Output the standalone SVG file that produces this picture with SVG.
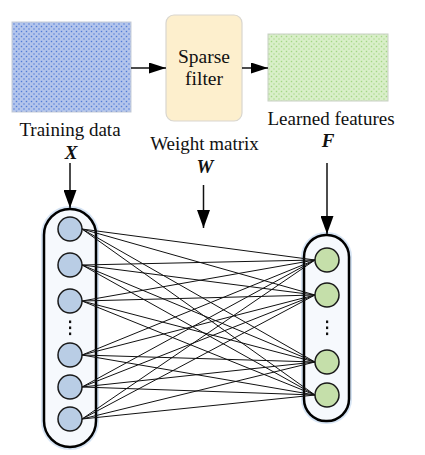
<svg xmlns="http://www.w3.org/2000/svg" width="425" height="455" viewBox="0 0 425 455">
<style>
text{font-family:"Liberation Serif","Times New Roman",serif;font-size:19px;fill:#111;text-anchor:middle}
.v{font-weight:bold;font-style:italic}
.arr{stroke:#111;stroke-width:1.5;fill:none}
.cap{fill:#f6f9fd;stroke:#000;stroke-width:2.5}
.glow{fill:none;stroke:#d6e4f4;stroke-width:6}
.nb{fill:#b9cde5;stroke:#1a1a1a;stroke-width:1.5}
.ng{fill:#c5dfaa;stroke:#1a1a1a;stroke-width:1.5}
.dot{fill:#111}
#links line{stroke:#111;stroke-width:1}
</style>
<defs>
<pattern id="pb" width="5" height="5" patternUnits="userSpaceOnUse">
<rect width="5" height="5" fill="#b3c5ec"/>
<rect x="0.8" y="0.8" width="1.4" height="1.4" fill="#4f7bd6"/>
<rect x="3.3" y="3.3" width="1.4" height="1.4" fill="#6388da"/>
</pattern>
<pattern id="pg" width="5" height="5" patternUnits="userSpaceOnUse">
<rect width="5" height="5" fill="#d9efc9"/>
<rect x="0.8" y="0.8" width="1.4" height="1.4" fill="#a3d685"/>
<rect x="3.3" y="3.3" width="1.4" height="1.4" fill="#b2dd97"/>
</pattern>
<marker id="ah" markerUnits="userSpaceOnUse" markerWidth="18" markerHeight="13" refX="18" refY="6.5" orient="auto">
<path d="M0,0 L18,6.5 L0,13 z" fill="#000"/>
</marker>
<marker id="ahs" markerUnits="userSpaceOnUse" markerWidth="17" markerHeight="11" refX="17" refY="5.5" orient="auto">
<path d="M0,0 L17,5.5 L0,11 z" fill="#000"/>
</marker>
</defs>

<g id="training-data">
<rect x="12" y="22" width="119" height="90" fill="url(#pb)" stroke="#c5cbd6" stroke-width="1"/>
<text x="70" y="136">Training data</text>
<text class="v" x="71" y="159">X</text>
</g>

<g id="sparse-filter">
<rect x="166" y="15" width="76" height="106" rx="8" fill="#fdefcd" stroke="#d9d6cf" stroke-width="1.2"/>
<text x="204" y="63" style="font-size:19.5px">Sparse</text>
<text x="204" y="85" style="font-size:19.5px">filter</text>
<text x="204.5" y="150">Weight matrix</text>
<text class="v" x="205" y="173">W</text>
</g>

<g id="learned-features">
<rect x="268" y="34" width="120" height="67" fill="url(#pg)" stroke="#c8cfc4" stroke-width="1"/>
<text x="331" y="125">Learned features</text>
<text class="v" x="328" y="147">F</text>
</g>

<g id="input-layer">
<rect class="glow" x="44" y="209" width="52" height="238" rx="26"/>
<rect class="cap" x="44" y="209" width="52" height="238" rx="26"/>
</g>

<g id="output-layer">
<rect class="glow" x="304" y="235" width="45" height="186" rx="22"/>
<rect class="cap" x="304" y="235" width="45" height="186" rx="22"/>
</g>

<g id="links">
<line x1="82" y1="229" x2="315" y2="260"/><line x1="82" y1="229" x2="315" y2="295"/><line x1="82" y1="229" x2="315" y2="362"/><line x1="82" y1="229" x2="315" y2="395"/>
<line x1="82" y1="265" x2="315" y2="260"/><line x1="82" y1="265" x2="315" y2="295"/><line x1="82" y1="265" x2="315" y2="362"/><line x1="82" y1="265" x2="315" y2="395"/>
<line x1="82" y1="301" x2="315" y2="260"/><line x1="82" y1="301" x2="315" y2="295"/><line x1="82" y1="301" x2="315" y2="362"/><line x1="82" y1="301" x2="315" y2="395"/>
<line x1="82" y1="355" x2="315" y2="260"/><line x1="82" y1="355" x2="315" y2="295"/><line x1="82" y1="355" x2="315" y2="362"/><line x1="82" y1="355" x2="315" y2="395"/>
<line x1="82" y1="387" x2="315" y2="260"/><line x1="82" y1="387" x2="315" y2="295"/><line x1="82" y1="387" x2="315" y2="362"/><line x1="82" y1="387" x2="315" y2="395"/>
<line x1="82" y1="419" x2="315" y2="260"/><line x1="82" y1="419" x2="315" y2="295"/><line x1="82" y1="419" x2="315" y2="362"/><line x1="82" y1="419" x2="315" y2="395"/>
</g>

<g id="input-nodes">
<circle class="nb" cx="70" cy="229" r="12"/>
<circle class="nb" cx="70" cy="265" r="12"/>
<circle class="nb" cx="70" cy="301" r="12"/>
<rect class="dot" x="69" y="320.5" width="2.2" height="2.6"/>
<rect class="dot" x="69" y="326.5" width="2.2" height="2.6"/>
<rect class="dot" x="69" y="332.5" width="2.2" height="2.6"/>
<circle class="nb" cx="70" cy="355" r="12"/>
<circle class="nb" cx="70" cy="387" r="12"/>
<circle class="nb" cx="70" cy="419" r="12"/>
</g>

<g id="output-nodes">
<circle class="ng" cx="327" cy="260" r="12"/>
<circle class="ng" cx="327" cy="295" r="12"/>
<rect class="dot" x="326" y="320.5" width="2.2" height="2.6"/>
<rect class="dot" x="326" y="326.5" width="2.2" height="2.6"/>
<rect class="dot" x="326" y="332.5" width="2.2" height="2.6"/>
<circle class="ng" cx="327" cy="362" r="12"/>
<circle class="ng" cx="327" cy="395" r="12"/>
</g>

<g id="arrows">
<line class="arr" x1="131" y1="68" x2="166" y2="68" marker-end="url(#ahs)"/>
<line class="arr" x1="242" y1="68" x2="268" y2="68" marker-end="url(#ahs)"/>
<line class="arr" x1="70" y1="163" x2="70" y2="208" marker-end="url(#ah)"/>
<line class="arr" x1="203.5" y1="185" x2="203.5" y2="228" marker-end="url(#ah)"/>
<line class="arr" x1="327" y1="163" x2="327" y2="234" marker-end="url(#ah)"/>
</g>
</svg>
